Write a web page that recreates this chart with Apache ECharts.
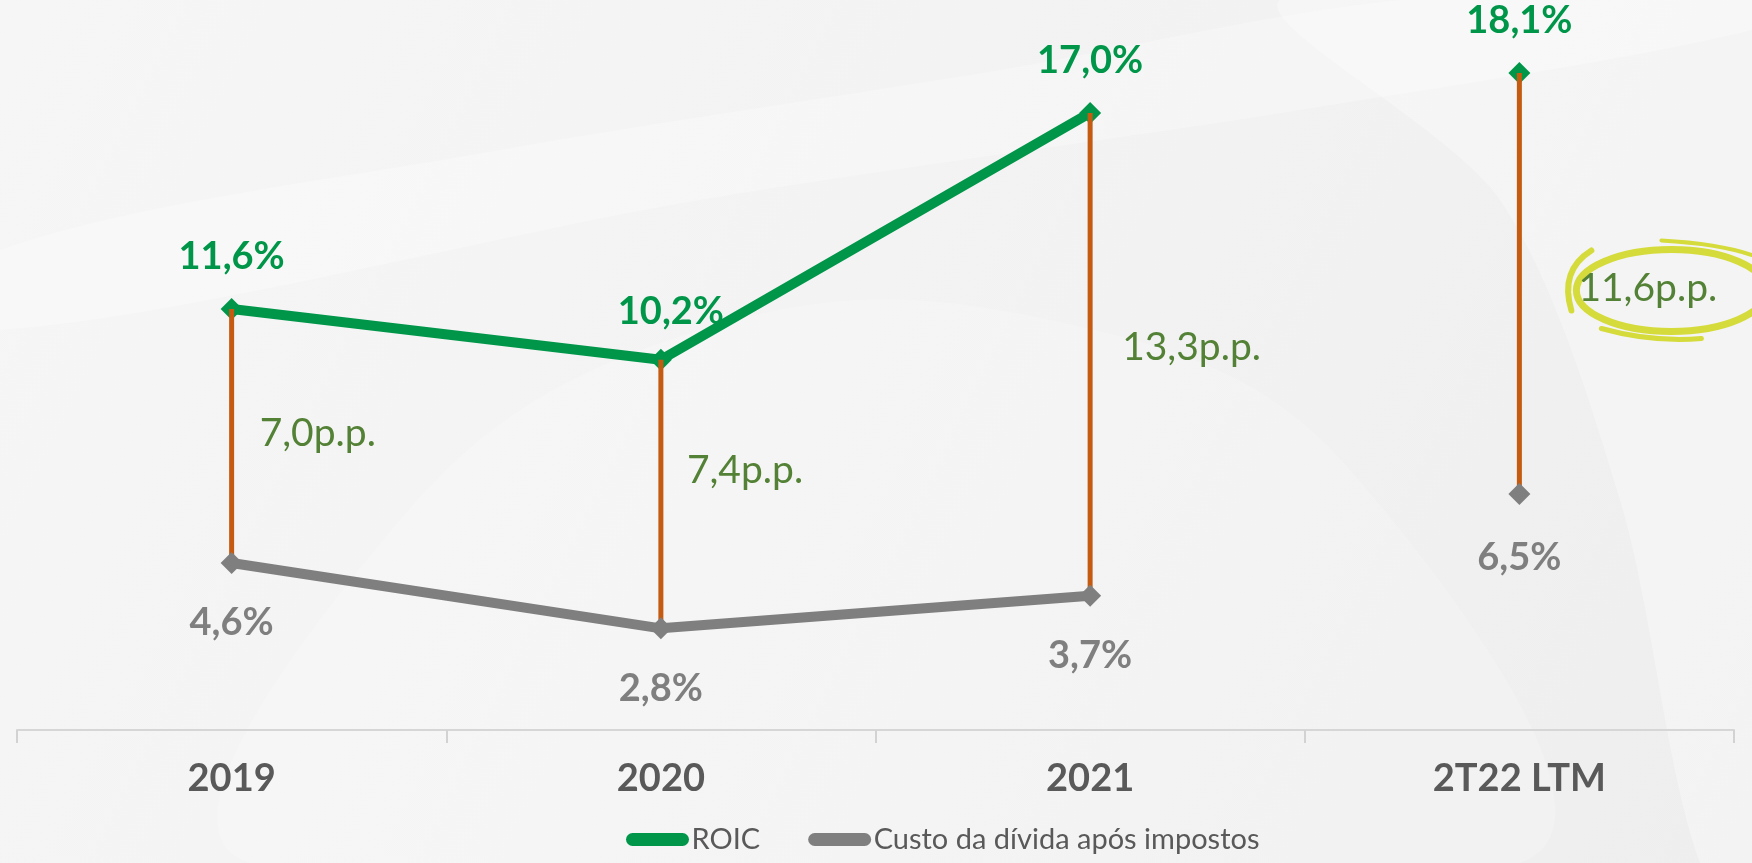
<!DOCTYPE html>
<html>
<head>
<meta charset="utf-8">
<script src="https://cdn.jsdelivr.net/npm/echarts@6/dist/echarts.min.js"></script>
<style>
  html, body { margin: 0; padding: 0; }
  #chart { width: 1752px; height: 863px; }
</style>
</head>
<body>
<div id="chart"></div>
<script>
// ---- data ----
const categories = ['2019', '2020', '2021', '2T22 LTM'];
const roic = [11.6, 10.2, 17.0, 18.1];
const custo = [4.6, 2.8, 3.7, 6.5];
const connectedPoints = 3; // first three periods joined by a line
const seriesNames = ['ROIC', 'Custo da dívida após impostos'];

// ---- layout / style (not data) ----
const ppOffsets = [[28, -3], [26, -24], [32, -7], [59, 5]];
const roicLabelOffsets = [[0, 0], [10, 4], [0, 0], [0, 0]];
const custoLabelOffsets = [[0, 0], [0, 0], [0, 0], [0, 4]];
const highlightIndex = 3;
const FONT = 'Lato, "Open Sans", sans-serif';
const GREEN = '#00964A', GRAY = '#7F7F7F';

const fmtPct = v => v.toFixed(1).replace('.', ',') + '%';
const fmtPP = v => v.toFixed(1).replace('.', ',') + 'p.p.';

const chart = echarts.init(document.getElementById('chart'));

function lineSeries(name, values, color, part, labelPos, dist, offsets, z) {
  return {
    name: name,
    type: 'line',
    data: values.map((v, i) => {
      const inPart = part === 'main' ? i < connectedPoints : i >= connectedPoints;
      return inPart ? { value: v, label: { offset: offsets[i] } } : '-';
    }),
    symbol: 'diamond',
    symbolSize: 22,
    showSymbol: true,
    lineStyle: { color: color, width: 10, cap: 'round', join: 'round' },
    itemStyle: { color: color },
    label: {
      show: true, position: labelPos, distance: dist,
      formatter: p => fmtPct(p.value),
      color: color, fontSize: 38, fontWeight: 'bold', fontFamily: FONT
    },
    z: z
  };
}

const W = 1752, H = 863;
const option = {
  backgroundColor: '#F1F1F1',
  animation: false,
  graphic: [
    { type: 'rect', silent: true, z: -10, shape: { x: 0, y: 0, width: W, height: H },
      style: { fill: { type: 'linear', x: 0, y: 0, x2: 1, y2: 1, colorStops: [
        { offset: 0, color: '#F6F6F6' }, { offset: 0.6, color: '#F2F2F2' }, { offset: 1, color: '#EEEEEE' } ] } } },
    { type: 'polygon', silent: true, z: -9,
      shape: { points: [[0, 250], [500, 150], [1000, 70], [1400, 0], [1752, 0], [1752, 30], [1300, 110], [700, 200], [0, 330]], smooth: 0.3 },
      style: { fill: 'rgba(255,255,255,0.28)' } },
    { type: 'polygon', silent: true, z: -9,
      shape: { points: [[250, 863], [400, 520], [700, 330], [1050, 320], [1350, 470], [1520, 863]], smooth: 0.4 },
      style: { fill: 'rgba(255,255,255,0.18)' } },
    { type: 'polygon', silent: true, z: -9,
      shape: { points: [[1280, 0], [1500, 200], [1620, 500], [1700, 863], [1752, 863], [1752, 0]], smooth: 0.3 },
      style: { fill: 'rgba(255,255,255,0.3)' } }
  ],
  grid: { left: 17, right: 18, top: 4, bottom: 133, containLabel: false },
  legend: {
    data: seriesNames,
    left: 621,
    bottom: 4,
    itemWidth: 50,
    itemHeight: 13,
    itemGap: 48,
    lineStyle: { width: 13, cap: 'round' },
    textStyle: { color: '#595959', fontSize: 29, fontFamily: FONT, padding: [0, 0, 0, 4] }
  },
  xAxis: {
    type: 'category',
    data: categories,
    boundaryGap: true,
    axisLine: { lineStyle: { color: '#D6D6D6', width: 2 } },
    axisTick: { show: true, length: 13, lineStyle: { color: '#D2D2D2', width: 2 } },
    axisLabel: { color: '#595959', fontSize: 38, fontWeight: 'bold', fontFamily: FONT, margin: 30 }
  },
  yAxis: { type: 'value', min: 0, max: 20, show: false },
  series: [
    lineSeries(seriesNames[0], roic, GREEN, 'main', 'top', 22, roicLabelOffsets, 3),
    lineSeries(seriesNames[0], roic, GREEN, 'tail', 'top', 22, roicLabelOffsets, 3),
    lineSeries(seriesNames[1], custo, GRAY, 'main', 'bottom', 30, custoLabelOffsets, 5),
    lineSeries(seriesNames[1], custo, GRAY, 'tail', 'bottom', 30, custoLabelOffsets, 5),
    {
      name: 'spread',
      type: 'custom',
      data: categories.map((c, i) => [i, roic[i], custo[i]]),
      encode: { x: 0, y: [1, 2] },
      z: 4,
      renderItem: function (params, api) {
        const i = params.dataIndex;
        const top = api.coord([api.value(0), api.value(1)]);
        const bot = api.coord([api.value(0), api.value(2)]);
        const midY = (top[1] + bot[1]) / 2;
        const off = ppOffsets[i];
        const children = [];
        if (i === highlightIndex) {
          const cx = top[0] + 152, cy = midY + off[1] + 2;
          children.push({
            type: 'ellipse',
            shape: { cx: cx, cy: cy, rx: 95, ry: 41 },
            style: { fill: 'none', stroke: '#D4DB3A', lineWidth: 7 }
          });
          children.push({
            type: 'bezierCurve',
            shape: { x1: cx - 100, y1: cy + 20, cpx1: cx - 112, cpy1: cy - 20, x2: cx - 80, y2: cy - 40 },
            style: { fill: 'none', stroke: '#D4DB3A', lineWidth: 6, lineCap: 'round' }
          });
          children.push({
            type: 'bezierCurve',
            shape: { x1: cx - 10, y1: cy - 50, cpx1: cx + 80, cpy1: cy - 45, x2: cx + 110, y2: cy - 20 },
            style: { fill: 'none', stroke: '#D4DB3A', lineWidth: 4, lineCap: 'round' }
          });
          children.push({
            type: 'bezierCurve',
            shape: { x1: cx - 70, y1: cy + 38, cpx1: cx - 20, cpy1: cy + 52, x2: cx + 30, y2: cy + 48 },
            style: { fill: 'none', stroke: '#D4DB3A', lineWidth: 5, lineCap: 'round' }
          });
        }
        children.push({
          type: 'line',
          shape: { x1: top[0], y1: top[1], x2: bot[0], y2: bot[1] },
          style: { stroke: '#C55A11', lineWidth: 5 }
        });
        children.push({
          type: 'text',
          style: {
            text: fmtPP(api.value(1) - api.value(2)),
            x: top[0] + off[0],
            y: midY + off[1],
            textAlign: 'left',
            textVerticalAlign: 'middle',
            fill: '#538135',
            font: '39px ' + FONT
          }
        });
        return { type: 'group', children: children };
      }
    }
  ]
};

chart.setOption(option);
</script>
</body>
</html>
